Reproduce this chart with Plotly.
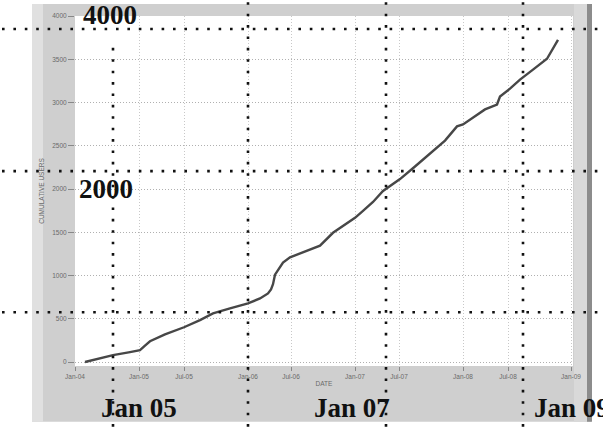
import plotly.graph_objects as go

# ---- data (time index units follow the original chart's tick spacing) ----
time_index = [10, 25, 38, 55, 65, 70, 75, 90, 109, 125, 138, 155, 173, 185, 193, 196,
              198, 200, 208, 215, 225, 235, 245, 258, 270, 280, 288, 298, 308, 325,
              340, 358, 370, 382, 388, 400, 410, 422, 425, 435, 445, 458, 472, 483]
cumulative_users = [0, 45, 80, 115, 138, 190, 240, 320, 402, 485, 563, 620, 678, 735, 793, 840,
                    900, 1010, 1150, 1210, 1253, 1300, 1345, 1494, 1590, 1667, 1747, 1850, 1977, 2115,
                    2260, 2437, 2560, 2724, 2747, 2840, 2920, 2977, 3069, 3160, 3264, 3380, 3506, 3724]

x_tick_vals = [0, 64, 109, 173, 216, 280, 324, 388, 433, 496]
x_tick_text = ["Jan-04", "Jan-05", "Jul-05", "Jan-06", "Jul-06", "Jan-07",
               "Jul-07", "Jan-08", "Jul-08", "Jan-09"]
y_tick_vals = [0, 500, 1000, 1500, 2000, 2500, 3000, 3500, 4000]

overlay_labels = ["4000", "2000", "Jan 05", "Jan 07", "Jan 09"]

W, H = 603, 427
ML, MR, MT, MB = 75, 30, 14, 61
PW, PH = W - ML - MR, H - MT - MB


def px(x):
    return (x - ML) / PW


def py(y):
    return (H - MB - y) / PH


fig = go.Figure()
fig.add_trace(go.Scatter(
    x=time_index, y=cumulative_users, mode="lines",
    line=dict(color="#474747", width=2.4), showlegend=False, hoverinfo="skip"))

shapes = []
# scanned grey frame
shapes.append(dict(type="rect", xref="paper", yref="paper", layer="below",
                   x0=px(32), x1=px(591), y0=py(422), y1=py(2),
                   fillcolor="#cfcfcf", line=dict(width=0)))
shapes.append(dict(type="rect", xref="paper", yref="paper", layer="below",
                   x0=px(32), x1=px(43), y0=py(422), y1=py(2),
                   fillcolor="#e0e0e0", line=dict(width=0)))
shapes.append(dict(type="rect", xref="paper", yref="paper", layer="below",
                   x0=px(574), x1=px(587), y0=py(422), y1=py(2),
                   fillcolor="#d9d9d9", line=dict(width=0)))
shapes.append(dict(type="rect", xref="paper", yref="paper", layer="below",
                   x0=px(587), x1=px(592), y0=py(422), y1=py(2),
                   fillcolor="#8c8c8c", line=dict(width=0)))
# white plotting area
shapes.append(dict(type="rect", xref="paper", yref="paper", layer="below",
                   x0=0, x1=1, y0=0, y1=1,
                   fillcolor="white", line=dict(width=0)))

# overlaid dotted black guide lines
dot = dict(color="#111111", width=2.6, dash="2.6px,8.8px")
for yy in [27, 170, 312]:
    shapes.append(dict(type="line", xref="paper", yref="paper", layer="above",
                       x0=px(2), x1=px(603), y0=py(yy), y1=py(yy), line=dot))
for xx, ytop in [(113, 38), (248, 0), (386, 0), (523, 0)]:
    shapes.append(dict(type="line", xref="paper", yref="paper", layer="above",
                       x0=px(xx), x1=px(xx), y0=py(427), y1=py(ytop), line=dot))

big = dict(family="Liberation Serif, Times New Roman, serif", size=27, color="#111111")
ann_pos = [(82, 13), (78, 188), (100, 408), (313, 408), (533, 408)]
annotations = []
for label, (ax, ay) in zip(overlay_labels, ann_pos):
    annotations.append(dict(text="<b>" + label + "</b>", xref="paper", yref="paper",
                            x=px(ax), y=py(ay), xanchor="left", yanchor="middle",
                            showarrow=False, font=big, borderpad=0))

small = dict(family="Arial, Liberation Sans, sans-serif", size=6.5, color="#6a6a6a")

fig.update_layout(
    width=W, height=H,
    margin=dict(l=ML, r=MR, t=MT, b=MB),
    paper_bgcolor="white", plot_bgcolor="white",
    shapes=shapes, annotations=annotations,
    xaxis=dict(range=[0, 498], tickvals=x_tick_vals, ticktext=x_tick_text,
               showgrid=True, gridcolor="#c8c8c8", griddash="1px,2px", gridwidth=1,
               zeroline=False, ticks="outside", ticklen=4, tickcolor="#888888",
               tickfont=small, showline=False,
               title=dict(text="DATE", font=small, standoff=2)),
    yaxis=dict(range=[-46, 4000], tickvals=y_tick_vals,
               showgrid=True, gridcolor="#b0b0b0", griddash="1px,2px", gridwidth=1,
               zeroline=False, ticks="outside", ticklen=6, tickcolor="#888888",
               tickfont=small, showline=False,
               title=dict(text="CUMULATIVE USERS", font=small, standoff=6)),
)

fig.write_html("out.html", config={"displayModeBar": False},
               post_script="document.body.style.margin='0px';")
